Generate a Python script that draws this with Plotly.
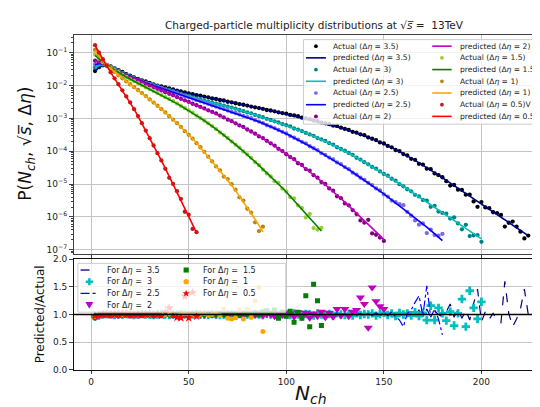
import math
import plotly.graph_objects as go

W, H = 540, 407
FONT = "DejaVu Sans"

# ---------------- data ----------------
# log10 of predicted P(Nch) on Nch = 2, 4, 6, ...
log10_pred_35 = [
    -1.57, -1.45, -1.39, -1.39, -1.42, -1.47, -1.53, -1.59, -1.65, -1.70,
    -1.75, -1.80, -1.84, -1.88, -1.92, -1.96, -2.00, -2.03, -2.06, -2.09,
    -2.12, -2.15, -2.18, -2.21, -2.24, -2.26, -2.29, -2.31, -2.34, -2.36,
    -2.39, -2.41, -2.44, -2.46, -2.49, -2.51, -2.54, -2.56, -2.59, -2.61,
    -2.64, -2.66, -2.69, -2.71, -2.74, -2.76, -2.79, -2.81, -2.84, -2.86,
    -2.89, -2.91, -2.94, -2.97, -3.00, -3.03, -3.06, -3.09, -3.12, -3.15,
    -3.18, -3.21, -3.24, -3.28, -3.32, -3.36, -3.40, -3.44, -3.48, -3.52,
    -3.57, -3.62, -3.67, -3.72, -3.77, -3.83, -3.89, -3.95, -4.01, -4.07,
    -4.14, -4.21, -4.28, -4.35, -4.42, -4.49, -4.57, -4.65, -4.73, -4.81,
    -4.89, -4.97, -5.05, -5.13, -5.21, -5.29, -5.37, -5.45, -5.53, -5.61,
    -5.69, -5.77, -5.85, -5.93, -6.01, -6.09, -6.17, -6.25, -6.33, -6.41,
    -6.49, -6.57]
log10_pred_3 = [
    -1.47, -1.38, -1.36, -1.38, -1.43, -1.49, -1.55, -1.61, -1.67, -1.72,
    -1.77, -1.82, -1.87, -1.91, -1.95, -1.99, -2.03, -2.07, -2.10, -2.14,
    -2.17, -2.21, -2.25, -2.29, -2.32, -2.36, -2.39, -2.42, -2.45, -2.49,
    -2.52, -2.55, -2.58, -2.61, -2.64, -2.67, -2.71, -2.74, -2.78, -2.82,
    -2.85, -2.89, -2.93, -2.97, -3.01, -3.05, -3.09, -3.13, -3.17, -3.21,
    -3.25, -3.30, -3.34, -3.39, -3.44, -3.49, -3.54, -3.59, -3.64, -3.69,
    -3.75, -3.81, -3.87, -3.93, -3.99, -4.05, -4.12, -4.19, -4.26, -4.33,
    -4.40, -4.47, -4.54, -4.61, -4.68, -4.75, -4.83, -4.91, -4.99, -5.07,
    -5.15, -5.23, -5.31, -5.39, -5.47, -5.55, -5.63, -5.71, -5.79, -5.87,
    -5.95, -6.03, -6.11, -6.19, -6.27, -6.35, -6.43, -6.51, -6.59, -6.67]
log10_pred_25 = [
    -1.37, -1.33, -1.34, -1.38, -1.44, -1.50, -1.56, -1.62, -1.68, -1.73,
    -1.78, -1.83, -1.88, -1.92, -1.96, -2.00, -2.04, -2.08, -2.12, -2.16,
    -2.20, -2.24, -2.28, -2.32, -2.36, -2.40, -2.44, -2.48, -2.52, -2.56,
    -2.60, -2.64, -2.68, -2.72, -2.76, -2.80, -2.84, -2.88, -2.92, -2.96,
    -3.00, -3.05, -3.10, -3.15, -3.20, -3.25, -3.30, -3.35, -3.41, -3.47,
    -3.53, -3.59, -3.65, -3.71, -3.77, -3.84, -3.91, -3.98, -4.05, -4.12,
    -4.19, -4.26, -4.33, -4.40, -4.48, -4.56, -4.64, -4.72, -4.80, -4.88,
    -4.96, -5.04, -5.12, -5.21, -5.30, -5.39, -5.48, -5.57, -5.66, -5.75,
    -5.84, -5.93, -6.02, -6.11, -6.21, -6.31, -6.41, -6.51, -6.61, -6.72]
log10_pred_2 = [
    -1.26, -1.28, -1.32, -1.37, -1.45, -1.52, -1.58, -1.64, -1.70, -1.75,
    -1.80, -1.85, -1.90, -1.95, -2.00, -2.05, -2.10, -2.15, -2.20, -2.25,
    -2.30, -2.35, -2.40, -2.45, -2.50, -2.55, -2.60, -2.65, -2.70, -2.75,
    -2.80, -2.85, -2.91, -2.97, -3.03, -3.09, -3.15, -3.21, -3.27, -3.33,
    -3.40, -3.47, -3.54, -3.61, -3.68, -3.76, -3.84, -3.92, -4.00, -4.08,
    -4.17, -4.26, -4.35, -4.44, -4.53, -4.62, -4.72, -4.82, -4.92, -5.02,
    -5.12, -5.22, -5.33, -5.44, -5.55, -5.66, -5.77, -5.88, -5.99, -6.10,
    -6.21, -6.33, -6.45, -6.57, -6.69]
log10_pred_15 = [
    -1.08, -1.19, -1.29, -1.37, -1.45, -1.53, -1.60, -1.67, -1.74, -1.81,
    -1.87, -1.93, -1.99, -2.05, -2.11, -2.17, -2.23, -2.29, -2.35, -2.41,
    -2.48, -2.55, -2.62, -2.69, -2.76, -2.83, -2.91, -2.99, -3.07, -3.15,
    -3.24, -3.33, -3.42, -3.51, -3.60, -3.70, -3.80, -3.90, -4.00, -4.10,
    -4.21, -4.32, -4.43, -4.54, -4.65, -4.76, -4.88, -5.00, -5.12, -5.24,
    -5.37, -5.50, -5.63, -5.76, -5.89, -6.02, -6.15, -6.29, -6.43]
log10_pred_1 = [
    -0.93, -1.10, -1.25, -1.38, -1.49, -1.59, -1.69, -1.78, -1.87, -1.96,
    -2.05, -2.14, -2.23, -2.32, -2.42, -2.52, -2.62, -2.72, -2.82, -2.93,
    -3.04, -3.15, -3.26, -3.38, -3.50, -3.62, -3.75, -3.88, -4.01, -4.17,
    -4.31, -4.45, -4.59, -4.73, -4.88, -5.04, -5.20, -5.37, -5.54, -5.71,
    -5.89, -6.07, -6.26, -6.46]
log10_pred_05 = [
    -0.78, -1.00, -1.20, -1.40, -1.60, -1.78, -1.96, -2.14, -2.33, -2.52,
    -2.72, -2.93, -3.15, -3.37, -3.60, -3.83, -4.06, -4.29, -4.52, -4.76,
    -5.00, -5.24, -5.48, -5.72, -5.96, -6.22, -6.48]

# Predicted / Actual on the same Nch grid
ratio_35 = [
    0.97, 0.98, 0.99, 1.00, 1.00, 1.01, 1.00, 0.99, 1.00, 1.00,
    1.01, 1.00, 1.00, 0.99, 1.00, 1.01, 1.00, 1.00, 0.99, 1.00,
    1.00, 1.01, 1.00, 0.99, 1.00, 1.00, 1.01, 1.00, 0.99, 1.00,
    1.01, 1.00, 1.00, 0.99, 1.01, 1.00, 1.00, 1.01, 0.99, 1.00,
    1.00, 1.01, 0.99, 1.00, 1.01, 1.00, 0.99, 1.01, 1.00, 0.99,
    1.01, 1.00, 0.99, 1.02, 1.00, 0.99, 1.01, 0.98, 1.02, 1.00,
    0.99, 1.02, 0.98, 1.01, 1.00, 0.98, 1.02, 0.99, 1.01, 0.98,
    1.02, 1.00, 0.98, 1.03, 0.99,
    1.02, 0.98, 1.03, 0.97, 1.04, 0.98, 1.05, 0.96, 1.08, 0.97,
    1.10, 0.95, 1.06, 1.00, 0.96, 1.05, 1.19, 0.95, 1.10, 0.93,
    1.08, 0.90, 1.20, 1.46, 0.87, 1.05, 0.92, 1.02, 0.90, 0.85,
    1.60, 1.02, 0.78, 0.92, 1.10, 1.46, 1.00]
ratio_3 = [
    0.96, 0.98, 1.00, 1.01, 1.00, 0.99, 1.00, 1.00, 1.01, 1.00,
    0.99, 1.00, 1.01, 1.00, 1.00, 0.99, 1.00, 1.01, 1.00, 0.99,
    1.00, 1.00, 1.01, 1.00, 0.99, 1.00, 1.01, 1.00, 1.00, 0.99,
    1.01, 1.00, 0.99, 1.00, 1.01, 1.00, 0.99, 1.01, 1.00, 1.00,
    0.99, 1.01, 1.00, 0.99, 1.01, 1.00, 1.00, 0.99, 1.01, 1.00,
    0.99, 1.02, 1.00, 0.99, 1.01, 1.00, 0.98, 1.02, 1.00, 0.99,
    1.01, 0.98, 1.02, 1.00, 0.99, 1.01, 0.98, 1.02, 0.99, 1.01,
    1.00, 1.02, 0.98, 1.01, 1.03, 0.99, 1.02, 0.97, 1.03, 1.00,
    1.02, 0.98, 1.04, 0.97, 1.03, 0.90, 1.16, 0.90, 1.12, 1.02,
    0.89, 1.05, 0.80, 1.02, 1.28, 0.78, 1.43, 1.12, 0.92, 1.23]
ratio_25 = [
    0.97, 0.99, 1.00, 1.00, 1.01, 1.00, 0.99, 1.00, 1.00, 1.01,
    1.00, 0.99, 1.00, 1.01, 1.00, 1.00, 0.99, 1.00, 1.01, 1.00,
    0.99, 1.00, 1.00, 1.01, 1.00, 0.99, 1.01, 1.00, 1.00, 0.99,
    1.00, 1.01, 1.00, 0.99, 1.00, 1.01, 0.99, 1.00, 1.01, 1.00,
    0.99, 1.01, 1.00, 0.99, 1.02, 1.00, 0.99, 1.01, 1.00, 0.98,
    1.02, 1.00, 0.99, 1.01, 0.98, 1.02, 1.00, 0.98, 1.02, 0.99,
    1.01, 0.98, 1.03, 0.99, 1.01, 0.97, 1.03, 0.99, 1.02, 0.98,
    1.02, 0.98, 1.03, 0.97, 1.04, 0.98, 1.05, 0.96, 0.90, 0.78,
    1.02, 1.08, 1.22, 1.34, 0.98, 1.52, 0.95, 1.10, 0.92, 0.63]
ratio_2 = [
    0.96, 0.98, 1.00, 1.00, 1.01, 1.00, 0.99, 1.00, 1.01, 1.00,
    1.00, 0.99, 1.00, 1.01, 1.00, 0.99, 1.00, 1.00, 1.01, 1.00,
    0.99, 1.00, 1.01, 1.00, 0.99, 1.01, 1.00, 1.00, 0.99, 1.01,
    1.00, 0.99, 1.01, 1.00, 1.02, 0.99, 1.00, 1.01, 0.98, 1.02,
    1.00, 0.99, 1.02, 0.98, 1.01, 1.00, 0.97, 1.02, 0.99, 1.03,
    1.02, 0.96, 1.04, 0.95, 1.03, 0.94, 1.02, 0.97, 1.05, 0.95,
    1.03, 0.96, 1.10, 0.98, 1.10, 0.97, 1.05, 1.08, 1.31, 1.19,
    0.76, 1.49, 1.24, 1.15, 1.10]
ratio_15 = [
    0.95, 0.98, 1.00, 1.00, 1.01, 1.00, 0.99, 1.00, 1.00, 1.01,
    1.00, 0.99, 1.00, 1.01, 1.00, 1.00, 0.99, 1.00, 1.01, 1.00,
    0.99, 1.00, 1.01, 1.00, 1.00, 0.99, 1.01, 1.00, 1.00, 1.01,
    0.99, 1.00, 1.02, 1.00, 0.99, 1.01, 1.00, 0.98, 1.02, 1.00,
    0.99, 1.03, 0.99,
    1.05, 1.07, 1.02, 1.08, 0.93, 1.04, 0.97, 1.06, 0.86, 1.04,
    0.93, 1.34, 0.78, 1.55, 1.25, 0.80]
ratio_1 = [
    0.97, 0.99, 1.00, 1.00, 1.00, 0.99, 1.00, 1.00, 1.01, 1.00,
    1.00, 0.99, 1.00, 1.00, 1.01, 1.00, 0.99, 1.00, 1.00, 1.01,
    1.00, 0.99, 1.00, 1.02, 1.00, 0.99, 1.01, 1.00, 1.02, 0.99,
    1.00, 1.03, 0.98, 1.10, 0.93, 0.92, 0.94, 1.08, 0.92, 1.10,
    0.95, 1.25, 1.49, 0.69]
ratio_05 = [
    0.98, 0.99, 1.00, 1.00, 0.99, 1.00, 1.00, 1.01, 1.00, 0.99,
    1.00, 1.00, 0.99, 1.00, 1.01, 0.99, 1.00, 0.98, 1.04, 1.12,
    0.99, 0.95, 0.94, 1.33, 0.94, 1.40, 0.97]

x_ticks = [0, 50, 100, 150, 200]
y_ticks_top = [1e-7, 1e-6, 1e-5, 1e-4, 1e-3, 1e-2, 1e-1]
y_ticktext_top = ["10<sup>\u22127</sup>", "10<sup>\u22126</sup>", "10<sup>\u22125</sup>",
                  "10<sup>\u22124</sup>", "10<sup>\u22123</sup>", "10<sup>\u22122</sup>",
                  "10<sup>\u22121</sup>"]
y_ticks_bot = [0.0, 0.5, 1.0, 1.5, 2.0]

series = [
    dict(de="3.5", logp=log10_pred_35, ratio=ratio_35, act="#000000", pred="#000080",
         bot=dict(mode="lines", line=dict(color="#000080", width=1.2, dash="dash"))),
    dict(de="3", logp=log10_pred_3, ratio=ratio_3, act="#008080", pred="#00bfbf",
         bot=dict(mode="markers", marker=dict(symbol="cross", size=7, color="#00bfbf"))),
    dict(de="2.5", logp=log10_pred_25, ratio=ratio_25, act="#7b68ee", pred="#0000ff",
         bot=dict(mode="lines", line=dict(color="#0000ff", width=1.2, dash="dashdot"))),
    dict(de="2", logp=log10_pred_2, ratio=ratio_2, act="#800080", pred="#bf00bf",
         bot=dict(mode="markers", marker=dict(symbol="triangle-down", size=8, color="#bf00bf"))),
    dict(de="1.5", logp=log10_pred_15, ratio=ratio_15, act="#9acd32", pred="#008000",
         bot=dict(mode="markers", marker=dict(symbol="square", size=5, color="#008000"))),
    dict(de="1", logp=log10_pred_1, ratio=ratio_1, act="#b8860b", pred="#ffa500",
         bot=dict(mode="markers", marker=dict(symbol="circle", size=5, color="#ffa500"))),
    dict(de="0.5", logp=log10_pred_05, ratio=ratio_05, act="#b22222", pred="#ff0000",
         bot=dict(mode="markers", marker=dict(symbol="star", size=7, color="#ff0000"))),
]

fig = go.Figure()
for s in series:
    n = list(range(2, 2 + 2 * len(s["logp"]), 2))
    pred = [10 ** v for v in s["logp"]]
    act = [p / r for p, r in zip(pred, s["ratio"])]
    fig.add_trace(go.Scatter(x=n[:len(act)], y=act, mode="markers",
                             marker=dict(size=4.3, color=s["act"], line=dict(width=0)),
                             xaxis="x", yaxis="y", showlegend=False, hoverinfo="skip"))
    fig.add_trace(go.Scatter(x=n, y=pred, mode="lines",
                             line=dict(color=s["pred"], width=1.6),
                             xaxis="x", yaxis="y", showlegend=False, hoverinfo="skip"))
for s in series:
    n = list(range(2, 2 + 2 * len(s["ratio"]), 2))
    fig.add_trace(go.Scatter(x=n, y=s["ratio"], xaxis="x2", yaxis="y2",
                             showlegend=False, hoverinfo="skip", **s["bot"]))

# ---------------- layout ----------------
def fx(px):
    return px / W

def fy(py):
    return 1 - py / H

SPINE = "#404040"
GRID = "#c4c4c4"
tickfont = dict(family=FONT, size=9, color="#222222")
x_dom = [fx(65.7), 1.0]
x_rng = [-9.0, 233.6]

fig.update_layout(
    width=W, height=H, margin=dict(l=0, r=0, t=0, b=0),
    paper_bgcolor="white", plot_bgcolor="white", showlegend=False,
    font=dict(family=FONT, size=9, color="#222222"),
    xaxis=dict(domain=x_dom, range=x_rng, anchor="y", tickmode="array", tickvals=x_ticks,
               showticklabels=False, ticks="outside", ticklen=3.5, tickcolor=SPINE,
               showgrid=True, gridcolor=GRID, gridwidth=1, zeroline=False,
               showline=True, linecolor=SPINE, linewidth=1, mirror=True),
    yaxis=dict(domain=[fy(246.7), fy(23)], type="log", range=[-7.119, -0.474], anchor="x",
               tickmode="array", tickvals=y_ticks_top, ticktext=y_ticktext_top,
               ticks="outside", ticklen=3.5, tickcolor=SPINE, tickfont=tickfont,
               minor=dict(tickmode="array",
                          tickvals=[k * 10.0 ** e for e in range(-8, 0) for k in range(2, 10)],
                          ticks="outside", ticklen=2, tickcolor=SPINE, showgrid=False),
               showgrid=True, gridcolor=GRID, gridwidth=1, zeroline=False,
               showline=True, linecolor=SPINE, linewidth=1, mirror=True),
    xaxis2=dict(domain=x_dom, range=x_rng, anchor="y2", tickmode="array", tickvals=x_ticks,
                ticks="outside", ticklen=3.5, tickcolor=SPINE, tickfont=tickfont,
                showgrid=True, gridcolor=GRID, gridwidth=1, zeroline=False,
                showline=True, linecolor="#111111", linewidth=1, mirror=True),
    yaxis2=dict(domain=[fy(365.7), fy(252.5)], range=[0, 2], anchor="x2",
                tickmode="array", tickvals=y_ticks_bot, tickformat=".1f",
                ticks="outside", ticklen=3.5, tickcolor=SPINE, tickfont=tickfont,
                showgrid=True, gridcolor=GRID, gridwidth=1, zeroline=False,
                showline=True, linecolor="#111111", linewidth=1, mirror=True),
)

shapes = []
annotations = []

# reference line at ratio 1
shapes.append(dict(type="line", xref="x2 domain", yref="y2", x0=0, x1=1, y0=1, y1=1,
                   line=dict(color="black", width=1.3), layer="above"))

def box(x0, y0, x1, y1):
    shapes.append(dict(type="rect", xref="paper", yref="paper",
                       x0=fx(x0), x1=fx(x1), y0=fy(y1), y1=fy(y0),
                       fillcolor="rgba(255,255,255,0.8)",
                       line=dict(color="#cccccc", width=1), layer="above"))

def key_line(x0, x1, y, color, dash="solid", width=1.6):
    shapes.append(dict(type="line", xref="paper", yref="paper",
                       x0=fx(x0), x1=fx(x1), y0=fy(y), y1=fy(y),
                       line=dict(color=color, width=width, dash=dash), layer="above"))

def key_circle(cx, cy, r, color):
    shapes.append(dict(type="circle", xref="paper", yref="paper",
                       x0=fx(cx - r), x1=fx(cx + r), y0=fy(cy + r), y1=fy(cy - r),
                       fillcolor=color, line=dict(width=0), layer="above"))

def key_poly(pts, color):
    d = "M " + " L ".join(f"{fx(px):.5f},{fy(py):.5f}" for px, py in pts) + " Z"
    shapes.append(dict(type="path", xref="paper", yref="paper", path=d,
                       fillcolor=color, line=dict(width=0), layer="above"))

def text(x, y, s, size=7.6, **kw):
    annotations.append(dict(xref="paper", yref="paper", x=fx(x), y=fy(y), text=s,
                            showarrow=False, xanchor="left", yanchor="middle",
                            font=dict(family=FONT, size=size, color="#222222"), **kw))

# ---- top legend (two columns) ----
box(296, 27.3, 538.3, 114)
top_col1 = [("dot", "#000000", "Actual (\u0394<i>\u03b7</i> = 3.5)"),
            ("line", "#000080", "predicted (\u0394<i>\u03b7</i> = 3.5)"),
            ("dot", "#008080", "Actual (\u0394<i>\u03b7</i> = 3)"),
            ("line", "#00bfbf", "predicted (\u0394<i>\u03b7</i> = 3)"),
            ("dot", "#7b68ee", "Actual (\u0394<i>\u03b7</i> = 2.5)"),
            ("line", "#0000ff", "predicted (\u0394<i>\u03b7</i> = 2.5)"),
            ("dot", "#800080", "Actual (\u0394<i>\u03b7</i> = 2)")]
top_col2 = [("line", "#bf00bf", "predicted (\u0394<i>\u03b7</i> = 2)"),
            ("dot", "#9acd32", "Actual (\u0394<i>\u03b7</i> = 1.5)"),
            ("line", "#008000", "predicted (\u0394<i>\u03b7</i> = 1.5)"),
            ("dot", "#b8860b", "Actual (\u0394<i>\u03b7</i> = 1)"),
            ("line", "#ffa500", "predicted (\u0394<i>\u03b7</i> = 1)"),
            ("dot", "#b22222", "Actual (\u0394<i>\u03b7</i> = 0.5)V"),
            ("line", "#ff0000", "predicted (\u0394<i>\u03b7</i> = 0.5)")]
for col, (lx0, lx1, tx) in zip([top_col1, top_col2], [(298.5, 318.5, 323.5), (425, 444.5, 451)]):
    for i, (kind, color, label) in enumerate(col):
        y = 34 + 12 * i
        if kind == "dot":
            key_circle((lx0 + lx1) / 2, y, 1.9, color)
        else:
            key_line(lx0, lx1, y, color)
        text(tx, y, label)

# ---- bottom legend (two columns) ----
box(70, 256.7, 278.3, 306.7)
ry = [263.5, 275.5, 287.5, 299.5]
key_line(72.7, 90.7, ry[0], "#000080", dash="dash", width=1.3)
cx, cy = 81.5, ry[1]
a, b = 3.6, 1.3
key_poly([(cx - b, cy - a), (cx + b, cy - a), (cx + b, cy - b), (cx + a, cy - b), (cx + a, cy + b),
          (cx + b, cy + b), (cx + b, cy + a), (cx - b, cy + a), (cx - b, cy + b), (cx - a, cy + b),
          (cx - a, cy - b), (cx - b, cy - b)], "#00bfbf")
key_line(72.7, 90.7, ry[2], "#0000ff", dash="dashdot", width=1.3)
cx, cy = 81.5, ry[3]
key_poly([(cx - 4, cy - 3.2), (cx + 4, cy - 3.2), (cx, cy + 3.6)], "#bf00bf")
cx, cy = 178.5, ry[0]
key_poly([(cx - 2.6, cy - 2.6), (cx + 2.6, cy - 2.6), (cx + 2.6, cy + 2.6), (cx - 2.6, cy + 2.6)], "#008000")
key_circle(178.5, ry[1], 2.7, "#ffa500")
cx, cy = 178.5, ry[2]
star = []
for k in range(10):
    ang = -math.pi / 2 + k * math.pi / 5
    rr = 3.8 if k % 2 == 0 else 1.6
    star.append((cx + rr * math.cos(ang), cy + rr * math.sin(ang)))
key_poly(star, "#ff0000")
bot_labels1 = ["For \u0394<i>\u03b7</i> =  3.5", "For \u0394<i>\u03b7</i> =  3",
               "For \u0394<i>\u03b7</i> =  2.5", "For \u0394<i>\u03b7</i> =  2"]
bot_labels2 = ["For \u0394<i>\u03b7</i> =  1.5", "For \u0394<i>\u03b7</i> =  1",
               "For \u0394<i>\u03b7</i> =  0.5"]
for i, s in enumerate(bot_labels1):
    text(97.5, ry[i], s, size=8)
for i, s in enumerate(bot_labels2):
    text(193.5, ry[i], s, size=8)

# ---- titles ----
annotations.append(dict(xref="paper", yref="paper", x=fx(307), y=fy(12),
                        text="Charged-particle multiplicity distributions at \u221a<i>s\u0305</i> =  13TeV",
                        showarrow=False, xanchor="center", yanchor="middle",
                        font=dict(family=FONT, size=10.5, color="#222222")))
annotations.append(dict(xref="paper", yref="paper", x=fx(19), y=fy(134),
                        text="P(<i>N</i><sub><i>ch</i></sub>, \u221a<i>s\u0305</i>, \u0394<i>\u03b7</i>)",
                        textangle=-90, showarrow=False, xanchor="center", yanchor="middle",
                        font=dict(family=FONT, size=17, color="#111111")))
annotations.append(dict(xref="paper", yref="paper", x=fx(32), y=fy(309),
                        text="Predicted/Actual", textangle=-90, showarrow=False,
                        xanchor="center", yanchor="middle",
                        font=dict(family=FONT, size=12, color="#111111")))
annotations.append(dict(xref="paper", yref="paper", x=fx(304), y=fy(391),
                        text="<i>N</i><sub><i>ch</i></sub>", showarrow=False,
                        xanchor="center", yanchor="middle",
                        font=dict(family=FONT, size=20, color="#111111")))

fig.update_layout(shapes=shapes, annotations=annotations)
fig.write_html("out.html")
